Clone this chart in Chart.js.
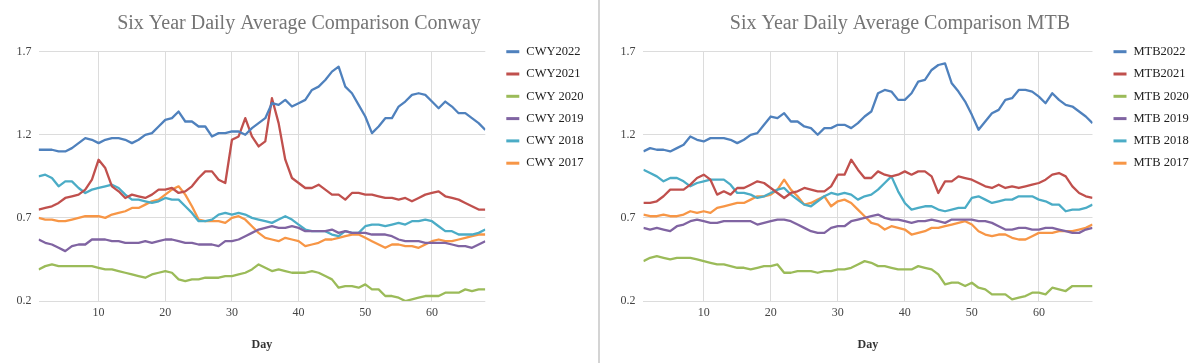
<!DOCTYPE html>
<html>
<head>
<meta charset="utf-8">
<script src="https://cdn.jsdelivr.net/npm/chart.js@4.4.1/dist/chart.umd.min.js"></script>
<style>
  html, body { margin: 0; padding: 0; background: #fff; }
  .row { display: flex; width: 1200px; height: 363px; }
  .divider { width: 2px; height: 363px; background: #d4d4d4; }
  canvas { display: block; }
</style>
</head>
<body>
<div class="row">
  <canvas id="cwy" width="598" height="363"></canvas>
  <div class="divider"></div>
  <canvas id="mtb" width="600" height="363"></canvas>
</div>
<script>
// day numbers on the x axis
const days = [];
for (let d = 1; d <= 68; d++) days.push(d);

const yTicks = [0.2, 0.7, 1.2, 1.7];
const xTicks = [10, 20, 30, 40, 50, 60];

const cwyLabels = ['CWY2022', 'CWY2021', 'CWY 2020', 'CWY 2019', 'CWY 2018', 'CWY 2017'];
const mtbLabels = ['MTB2022', 'MTB2021', 'MTB 2020', 'MTB 2019', 'MTB 2018', 'MTB 2017'];
const colors = ['#4F81BD', '#C0504D', '#9BBB59', '#8064A2', '#4BACC6', '#F79646'];

// Conway
const cwy2022 = [1.11,1.11,1.11,1.10,1.10,1.12,1.15,1.18,1.17,1.15,1.17,1.18,1.18,1.17,1.15,1.17,1.20,1.21,1.25,1.29,1.30,1.34,1.28,1.28,1.25,1.25,1.19,1.21,1.21,1.22,1.22,1.20,1.24,1.27,
  1.30,1.39,1.38,1.41,1.37,1.39,1.41,1.47,1.49,1.53,1.58,1.61,1.49,1.45,1.38,1.31,1.21,1.25,1.30,1.30,1.37,1.40,1.44,1.45,1.44,1.40,1.36,1.40,1.37,1.33,1.33,1.30,1.27,1.23];
const cwy2021 = [0.75,0.76,0.77,0.79,0.82,0.83,0.84,0.87,0.93,1.05,1.00,0.89,0.86,0.82,0.84,0.83,0.82,0.84,0.87,0.87,0.88,0.85,0.86,0.89,0.94,0.98,0.98,0.93,0.91,1.17,1.19,1.30,1.19,1.13,
  1.16,1.42,1.27,1.05,0.94,0.91,0.88,0.88,0.90,0.87,0.84,0.84,0.81,0.85,0.85,0.84,0.84,0.83,0.82,0.82,0.81,0.82,0.80,0.82,0.84,0.85,0.86,0.83,0.82,0.81,0.79,0.77,0.75,0.75];
const cwy2020 = [0.39,0.41,0.42,0.41,0.41,0.41,0.41,0.41,0.41,0.40,0.39,0.39,0.38,0.37,0.36,0.35,0.34,0.36,0.37,0.38,0.37,0.33,0.32,0.33,0.33,0.34,0.34,0.34,0.35,0.35,0.36,0.37,0.39,0.42,
  0.40,0.38,0.39,0.38,0.37,0.37,0.37,0.38,0.37,0.35,0.33,0.28,0.29,0.29,0.28,0.30,0.27,0.27,0.23,0.23,0.22,0.20,0.21,0.22,0.23,0.23,0.23,0.25,0.25,0.25,0.27,0.26,0.27,0.27];
const cwy2019 = [0.57,0.55,0.54,0.52,0.50,0.53,0.54,0.54,0.57,0.57,0.57,0.56,0.56,0.55,0.55,0.55,0.56,0.55,0.56,0.57,0.57,0.56,0.55,0.55,0.54,0.54,0.54,0.53,0.56,0.56,0.57,0.59,0.61,0.63,
  0.64,0.65,0.64,0.64,0.65,0.64,0.62,0.62,0.62,0.62,0.63,0.61,0.62,0.61,0.61,0.61,0.60,0.60,0.60,0.59,0.57,0.56,0.56,0.56,0.55,0.55,0.55,0.55,0.54,0.53,0.53,0.52,0.54,0.56];
const cwy2018 = [0.95,0.96,0.94,0.89,0.92,0.92,0.88,0.85,0.87,0.88,0.89,0.90,0.88,0.84,0.81,0.81,0.80,0.79,0.80,0.82,0.81,0.81,0.77,0.73,0.68,0.68,0.69,0.72,0.73,0.72,0.73,0.72,0.70,0.69,
  0.68,0.67,0.69,0.71,0.69,0.66,0.63,0.62,0.62,0.62,0.60,0.59,0.62,0.61,0.61,0.65,0.66,0.66,0.65,0.66,0.67,0.66,0.68,0.68,0.69,0.68,0.65,0.62,0.62,0.60,0.60,0.60,0.61,0.63];
const cwy2017 = [0.70,0.69,0.69,0.68,0.68,0.69,0.70,0.71,0.71,0.71,0.70,0.72,0.73,0.74,0.76,0.76,0.78,0.80,0.81,0.84,0.87,0.89,0.84,0.77,0.69,0.68,0.68,0.68,0.67,0.70,0.71,0.69,0.65,0.61,
  0.58,0.57,0.56,0.58,0.57,0.56,0.53,0.54,0.55,0.57,0.57,0.58,0.59,0.60,0.60,0.58,0.56,0.54,0.52,0.54,0.54,0.53,0.53,0.52,0.54,0.56,0.57,0.56,0.56,0.57,0.58,0.59,0.60,0.60];

// MTB
const mtb2022 = [1.10,1.12,1.11,1.11,1.10,1.12,1.14,1.19,1.17,1.16,1.18,1.18,1.18,1.17,1.15,1.17,1.20,1.21,1.26,1.31,1.30,1.33,1.28,1.28,1.25,1.24,1.20,1.24,1.24,1.26,1.26,1.24,1.27,1.31,
  1.34,1.45,1.47,1.46,1.41,1.41,1.45,1.52,1.53,1.59,1.62,1.63,1.51,1.46,1.40,1.32,1.23,1.28,1.33,1.35,1.41,1.42,1.47,1.47,1.46,1.43,1.39,1.45,1.41,1.38,1.37,1.34,1.31,1.27];
const mtb2021 = [0.79,0.79,0.80,0.83,0.87,0.87,0.87,0.90,0.94,0.96,0.93,0.84,0.86,0.84,0.88,0.88,0.90,0.92,0.91,0.88,0.85,0.82,0.85,0.86,0.88,0.87,0.86,0.86,0.89,0.96,0.96,1.05,0.99,0.94,
  0.94,0.98,0.96,0.95,0.96,0.98,0.96,0.98,0.98,0.95,0.85,0.92,0.92,0.95,0.94,0.93,0.91,0.89,0.88,0.90,0.88,0.89,0.88,0.89,0.90,0.91,0.93,0.96,0.97,0.95,0.89,0.85,0.83,0.82];
const mtb2020 = [0.44,0.46,0.47,0.46,0.45,0.46,0.46,0.46,0.45,0.44,0.43,0.42,0.42,0.41,0.40,0.40,0.39,0.40,0.41,0.41,0.42,0.37,0.37,0.38,0.38,0.38,0.37,0.38,0.38,0.39,0.39,0.40,0.42,0.44,
  0.43,0.41,0.41,0.40,0.39,0.39,0.39,0.41,0.40,0.39,0.36,0.30,0.31,0.31,0.29,0.31,0.28,0.27,0.24,0.24,0.24,0.21,0.22,0.23,0.25,0.25,0.24,0.28,0.27,0.26,0.29,0.29,0.29,0.29];
const mtb2019 = [0.64,0.63,0.64,0.63,0.62,0.65,0.66,0.68,0.69,0.68,0.67,0.67,0.68,0.68,0.68,0.68,0.68,0.66,0.67,0.68,0.69,0.69,0.68,0.66,0.64,0.62,0.61,0.61,0.64,0.65,0.65,0.68,0.69,0.70,
  0.71,0.72,0.70,0.69,0.69,0.68,0.67,0.68,0.68,0.69,0.68,0.67,0.69,0.69,0.69,0.69,0.68,0.68,0.67,0.65,0.63,0.63,0.64,0.64,0.63,0.63,0.64,0.64,0.63,0.62,0.61,0.61,0.63,0.64];
const mtb2018 = [0.99,0.97,0.95,0.92,0.94,0.94,0.92,0.89,0.91,0.92,0.93,0.93,0.93,0.90,0.85,0.85,0.84,0.82,0.83,0.85,0.87,0.88,0.84,0.81,0.78,0.77,0.80,0.83,0.85,0.84,0.85,0.84,0.81,0.83,
  0.84,0.87,0.91,0.95,0.86,0.79,0.75,0.76,0.77,0.77,0.75,0.74,0.75,0.76,0.76,0.82,0.83,0.81,0.79,0.80,0.81,0.81,0.83,0.83,0.83,0.81,0.80,0.78,0.78,0.74,0.75,0.75,0.76,0.78];
const mtb2017 = [0.72,0.71,0.71,0.72,0.71,0.71,0.72,0.74,0.73,0.74,0.73,0.76,0.77,0.78,0.79,0.79,0.81,0.83,0.83,0.84,0.87,0.93,0.87,0.83,0.78,0.79,0.81,0.83,0.77,0.80,0.81,0.79,0.75,0.71,
  0.67,0.66,0.63,0.65,0.64,0.63,0.60,0.61,0.62,0.64,0.64,0.65,0.66,0.67,0.68,0.66,0.62,0.60,0.59,0.60,0.60,0.58,0.57,0.57,0.59,0.61,0.61,0.61,0.62,0.62,0.62,0.63,0.64,0.66];

const serif = '"Liberation Serif", "Times New Roman", serif';

// legend to the right of the plot, drawn top-down from the chart area top
const sideLegend = {
  id: 'sideLegend',
  afterDraw(chart) {
    const ctx = chart.ctx;
    const area = chart.chartArea;
    ctx.save();
    ctx.font = '12.5px ' + serif;
    ctx.textBaseline = 'middle';
    ctx.textAlign = 'left';
    chart.data.datasets.forEach((ds, i) => {
      const y = area.top + i * 22.3;
      ctx.fillStyle = ds.borderColor;
      ctx.fillRect(area.right + 21, y - 1.5, 13, 3);
      ctx.fillStyle = '#222';
      ctx.fillText(ds.label, area.right + 41, y);
    });
    ctx.restore();
  }
};

function makeChart(id, title, labels, series, axisW, legendW, yPad) {
  const datasets = series.map((arr, i) => ({
    label: labels[i],
    data: days.map((d, j) => ({ x: d, y: arr[j] })),
    borderColor: colors[i],
    backgroundColor: colors[i],
    borderWidth: 2.3,
    pointRadius: 0,
    tension: 0,
    borderJoinStyle: 'round'
  }));

  return new Chart(document.getElementById(id), {
    type: 'line',
    data: { datasets },
    plugins: [sideLegend],
    options: {
      responsive: false,
      animation: false,
      layout: { padding: 0 },
      plugins: {
        legend: { display: false },
        tooltip: { enabled: false },
        title: {
          display: true,
          text: title,
          color: '#757575',
          font: { family: serif, size: 20, weight: 'normal' },
          padding: { top: 12, bottom: 15.7 }
        }
      },
      scales: {
        x: {
          type: 'linear',
          min: 1,
          max: 68,
          afterBuildTicks: (s) => { s.ticks = xTicks.map(v => ({ value: v })); },
          afterFit: (s) => { s.height = 62; },
          ticks: { color: '#444', font: { family: serif, size: 12 }, padding: 5 },
          grid: { color: '#dcdcdc', drawTicks: false },
          border: { display: false },
          title: {
            display: true,
            text: 'Day',
            color: '#333',
            font: { family: serif, size: 12, weight: 'bold' },
            padding: { top: 0, bottom: 11.3 }
          }
        },
        y: {
          min: 0.2,
          max: 1.7,
          afterBuildTicks: (s) => { s.ticks = yTicks.map(v => ({ value: v })); },
          afterFit: (s) => { s.width = axisW; },
          ticks: { color: '#444', font: { family: serif, size: 12 }, padding: yPad },
          grid: { color: '#dcdcdc', drawTicks: false },
          border: { display: false }
        },
        // empty right-hand axis that only reserves room for the legend
        legendSpace: {
          type: 'linear',
          position: 'right',
          ticks: { display: false },
          grid: { display: false },
          border: { display: false },
          afterFit: (s) => { s.width = legendW; }
        }
      }
    }
  });
}

makeChart('cwy', 'Six Year Daily Average Comparison Conway', cwyLabels,
  [cwy2022, cwy2021, cwy2020, cwy2019, cwy2018, cwy2017], 38.6, 112.7, 7);
makeChart('mtb', 'Six Year Daily Average Comparison MTB', mtbLabels,
  [mtb2022, mtb2021, mtb2020, mtb2019, mtb2018, mtb2017], 43.4, 107.5, 8);
</script>
</body>
</html>
